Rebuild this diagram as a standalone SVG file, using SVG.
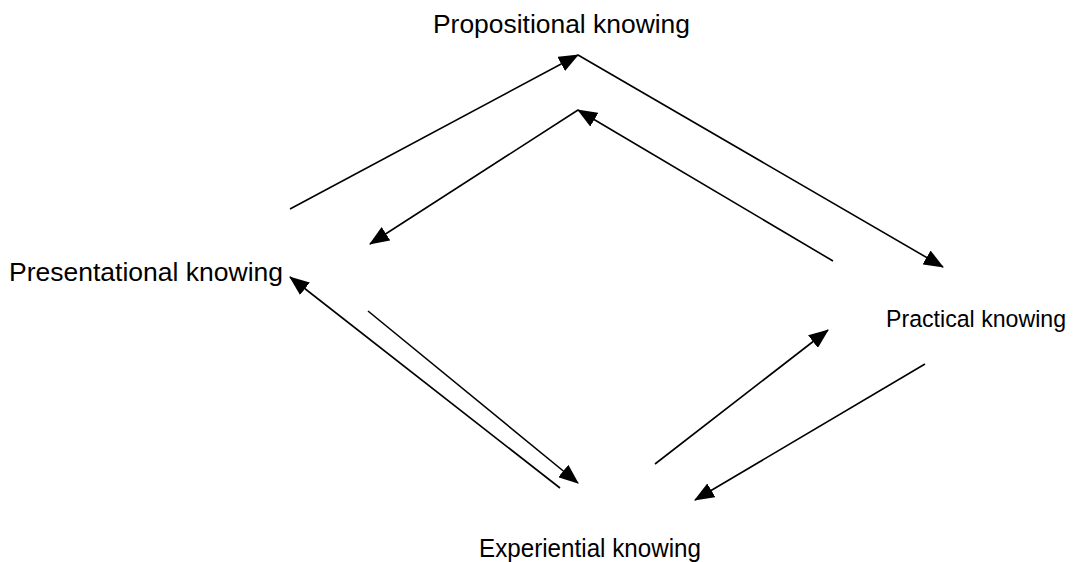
<svg xmlns="http://www.w3.org/2000/svg" width="1077" height="562" viewBox="0 0 1077 562">
<defs>
<style>
text{font-family:"Liberation Sans",Arial,sans-serif;font-size:25px;fill:#000}
.c line,.c polyline{stroke:#000;stroke-width:1.6;fill:none;marker-end:url(#ah)}
</style>
<marker id="ah" markerWidth="20" markerHeight="16" refX="19" refY="8" orient="auto" markerUnits="userSpaceOnUse">
<path d="M0,0 L20,8 L0,16 Z" fill="#000"/>
</marker>
</defs>
<rect width="1077" height="562" fill="#fff"/>
<g id="n-propositional"><text x="433" y="33" textLength="257" lengthAdjust="spacingAndGlyphs">Propositional knowing</text></g>
<g id="n-presentational"><text x="9" y="281" textLength="274" lengthAdjust="spacingAndGlyphs">Presentational knowing</text></g>
<g id="n-practical"><text x="886" y="327" style="font-size:24.5px" textLength="180" lengthAdjust="spacingAndGlyphs">Practical knowing</text></g>
<g id="n-experiential"><text x="479" y="557" textLength="222" lengthAdjust="spacingAndGlyphs">Experiential knowing</text></g>
<g id="connectors" class="c">
<line x1="290" y1="209" x2="578" y2="55"/>
<polyline points="578,55 943,267"/>
<line x1="833" y1="261" x2="578" y2="110"/>
<polyline points="578,110 370,244"/>
<line x1="368" y1="311" x2="578" y2="483"/>
<line x1="560" y1="488" x2="290" y2="277"/>
<line x1="655" y1="464" x2="828" y2="330"/>
<line x1="925" y1="364" x2="695" y2="500"/>
</g>
</svg>
